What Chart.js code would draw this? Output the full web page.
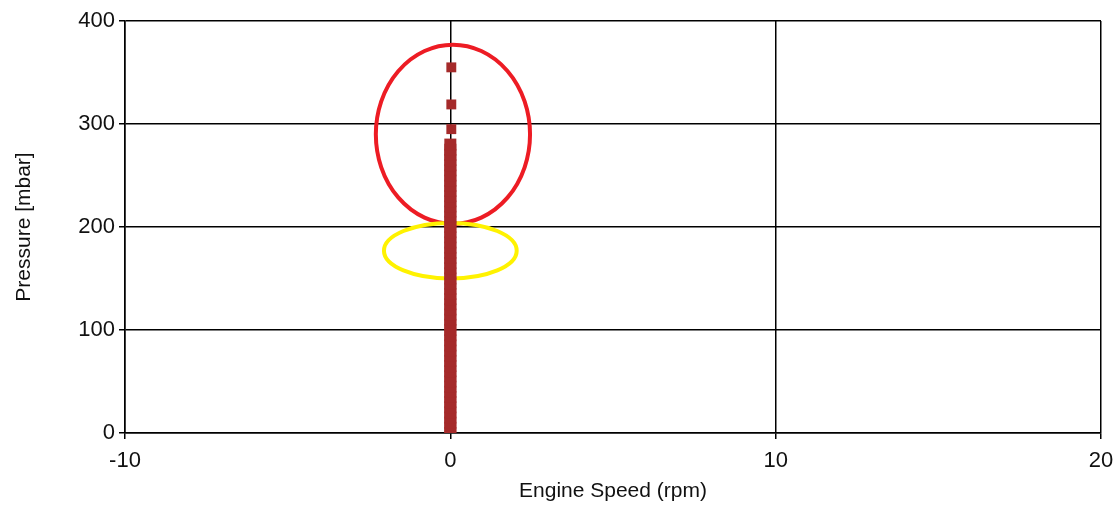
<!DOCTYPE html>
<html>
<head>
<meta charset="utf-8">
<script src="https://cdn.jsdelivr.net/npm/chart.js@4/dist/chart.umd.min.js"></script>
<style>
    html, body { margin: 0; padding: 0; background: #fff; }
    #wrap { width: 1119px; height: 508px; position: relative; }
</style>
</head>
<body>
<div id="wrap"><canvas id="chart"></canvas></div>
<script>
// pressure readings, all taken at engine speed ~0 rpm
var columnPressure = [
    0, 5, 10, 15, 20, 25, 30, 35, 40, 45, 50, 55, 60, 65, 70, 75, 80, 85, 90, 95,
    100, 105, 110, 115, 120, 125, 130, 135, 140, 145, 150, 155, 160, 165, 170, 175,
    180, 185, 190, 195, 200, 205, 210, 215, 220, 225, 230, 235, 240, 245, 250, 255,
    260, 265, 270, 275, 280
];
var sparsePressure = [295, 319, 355];
var columnSpeed = 0.0;
var sparseSpeed = 0.03;
var xTicks = [-10, 0, 10, 20];
var yTicks = [0, 100, 200, 300, 400];

// hand drawn marks: [centre x, centre y, radius x, radius y] in axis units
var redRing = [0.08, 290, 2.37, 87];
var yellowRing = [0.0, 177, 2.04, 27];

function toPoints(speed, values) {
    var out = [];
    for (var i = 0; i < values.length; i++) {
        out.push({ x: speed, y: values[i] });
    }
    return out;
}

var ringPlugin = {
    id: 'rings',
    beforeDatasetsDraw: function (chart) {
        var ctx = chart.ctx;
        var xs = chart.scales.x, ys = chart.scales.y;
        function ring(r, color, width) {
            var cx = xs.getPixelForValue(r[0]);
            var cy = ys.getPixelForValue(r[1]);
            var rx = Math.abs(xs.getPixelForValue(r[0] + r[2]) - cx);
            var ry = Math.abs(ys.getPixelForValue(r[1] + r[3]) - cy);
            ctx.save();
            ctx.beginPath();
            ctx.ellipse(cx, cy, rx, ry, 0, 0, Math.PI * 2);
            ctx.strokeStyle = color;
            ctx.lineWidth = width;
            ctx.stroke();
            ctx.restore();
        }
        ring(redRing, 'rgb(237,28,36)', 4);
        ring(yellowRing, 'rgb(255,242,0)', 4);
    }
};

var brown = 'rgb(165,42,42)';
var ctx = document.getElementById('chart');
new Chart(ctx, {
    type: 'scatter',
    data: {
        datasets: [{
            label: 'Pressure',
            data: toPoints(columnSpeed, columnPressure),
            pointStyle: 'rect',
            pointRadius: 8.5,
            borderWidth: 0,
            backgroundColor: brown,
            borderColor: brown
        }, {
            label: 'Pressure (high)',
            data: toPoints(sparseSpeed, sparsePressure),
            pointStyle: 'rect',
            pointRadius: 7,
            borderWidth: 0,
            backgroundColor: brown,
            borderColor: brown
        }]
    },
    options: {
        responsive: true,
        maintainAspectRatio: false,
        animation: false,
        layout: { padding: { top: 21, right: 18, left: 8, bottom: 0 } },
        plugins: {
            legend: { display: false },
            tooltip: { enabled: false }
        },
        scales: {
            x: {
                type: 'linear',
                min: xTicks[0],
                max: xTicks[xTicks.length - 1],
                afterBuildTicks: function (s) { s.ticks = xTicks.map(function (v) { return { value: v }; }); },
                afterFit: function (s) { s.height = 75; s.paddingRight = 0; s.paddingLeft = 0; },
                grid: { color: '#000', lineWidth: 1.5, tickLength: 6, tickColor: '#000' },
                border: { color: '#000', width: 1.5 },
                ticks: { color: '#111', font: { family: 'Liberation Sans', size: 22 }, padding: 9 },
                title: {
                    display: true,
                    text: 'Engine Speed (rpm)',
                    color: '#111',
                    font: { family: 'Liberation Sans', size: 21 },
                    padding: { top: 4 }
                }
            },
            y: {
                min: yTicks[0],
                max: yTicks[yTicks.length - 1],
                afterBuildTicks: function (s) { s.ticks = yTicks.map(function (v) { return { value: v }; }); },
                afterFit: function (s) { s.width = 117; },
                grid: { color: '#000', lineWidth: 1.5, tickLength: 6, tickColor: '#000' },
                border: { color: '#000', width: 1.5 },
                ticks: { color: '#111', font: { family: 'Liberation Sans', size: 22 }, padding: 4 },
                title: {
                    display: true,
                    text: 'Pressure [mbar]',
                    color: '#111',
                    font: { family: 'Liberation Sans', size: 21 },
                    padding: { bottom: 0 }
                }
            }
        }
    },
    plugins: [ringPlugin]
});
</script>
</body>
</html>
